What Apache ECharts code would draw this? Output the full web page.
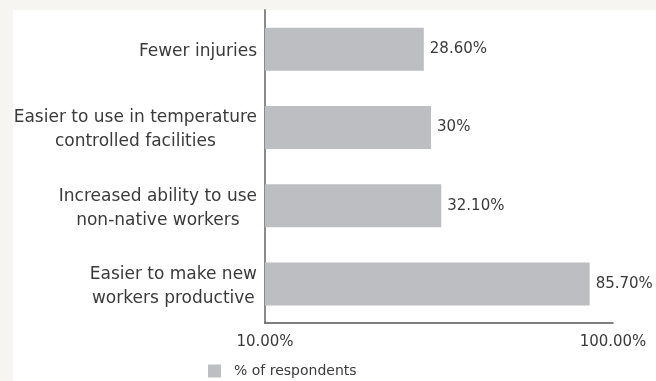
<!DOCTYPE html>
<html>
<head>
<meta charset="utf-8">
<script src="https://cdn.jsdelivr.net/npm/echarts@6/dist/echarts.min.js"></script>
<style>
  html, body { margin: 0; padding: 0; background: #f6f5f2; }
  #chart { width: 656px; height: 381px; }
</style>
</head>
<body>
<div id="chart"></div>
<script>
// Reported benefits, % of respondents
const categories = [
  'Fewer injuries',
  'Easier to use in temperature\ncontrolled facilities',
  'Increased ability to use\nnon-native workers',
  'Easier to make new\nworkers productive'
];
const values = [28.6, 30, 32.1, 85.7];
const seriesName = '% of respondents';
const axisMin = 10;
const axisMax = 100;

function pctLabel(v) {
  return (Math.round(v) === v ? String(v) : v.toFixed(2)) + '%';
}

const chart = echarts.init(document.getElementById('chart'), null, { renderer: 'canvas' });
const FONT = 'DejaVu Sans';

chart.setOption({
  backgroundColor: '#f6f5f2',
  animation: false,
  textStyle: { fontFamily: FONT },
  graphic: [{
    type: 'rect',
    z: -10,
    shape: { x: 13, y: 10, width: 660, height: 400 },
    style: { fill: '#ffffff' }
  }],
  legend: {
    left: 208,
    top: 364,
    padding: 0,
    itemWidth: 13,
    itemHeight: 13,
    icon: 'rect',
    data: [seriesName],
    textStyle: { fontFamily: FONT, fontSize: 14, color: '#3a3a3a', padding: [0, 0, 0, 8] }
  },
  grid: { left: 265, right: 43, top: 10, bottom: 58, containLabel: false },
  xAxis: {
    type: 'log',
    logBase: 10,
    min: axisMin,
    max: axisMax,
    axisLine: { show: true, lineStyle: { color: '#555', width: 1.5 } },
    axisTick: { show: false },
    splitLine: { show: false },
    axisLabel: {
      margin: 12,
      fontFamily: FONT,
      fontSize: 15,
      color: '#3a3a3a',
      showMinLabel: true,
      showMaxLabel: true,
      formatter: v => Number(v).toFixed(2) + '%'
    }
  },
  yAxis: {
    type: 'category',
    inverse: true,
    data: categories,
    axisLine: { show: true, lineStyle: { color: '#8a8a8a', width: 2 } },
    axisTick: { show: false },
    axisLabel: {
      margin: 8,
      align: 'right',
      padding: [5, 0, 0, 0],
      // each line centred inside the right-aligned label block
      formatter: v => v.split('\n').map(s => '{c|' + s + '}').join('\n'),
      rich: {
        c: {
          align: 'center',
          fontFamily: FONT,
          fontSize: 17,
          lineHeight: 24,
          color: '#3a3a3a'
        }
      }
    }
  },
  series: [{
    name: seriesName,
    type: 'bar',
    data: values,
    barWidth: 43,
    itemStyle: { color: '#bdbec2' },
    label: {
      show: true,
      position: 'right',
      distance: 6,
      fontFamily: FONT,
      fontSize: 15,
      color: '#3a3a3a',
      formatter: p => pctLabel(p.value)
    }
  }]
});
</script>
</body>
</html>
